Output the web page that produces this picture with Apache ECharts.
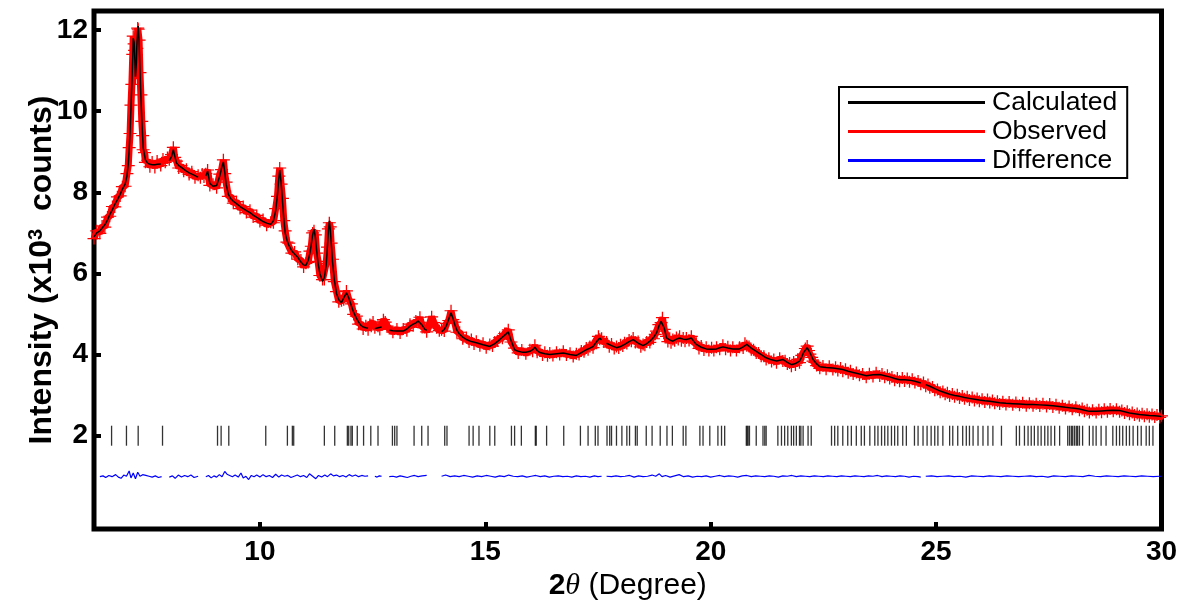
<!DOCTYPE html>
<html>
<head>
<meta charset="utf-8">
<script src="https://cdn.jsdelivr.net/npm/echarts@6.0.0/dist/echarts.min.js"></script>
<style>
html,body{margin:0;padding:0;background:#fff;}
#chart{width:1181px;height:600px;}
</style>
</head>
<body>
<div id="chart"></div>
<script>
// ---- data (2theta in degrees, intensity in 10^3 counts) ----
const xTicks = [10, 15, 20, 25, 30];
const yTicks = [2, 4, 6, 8, 10, 12];

const calcPts = [[6.32,6.90],[6.38,7.00],[6.45,7.05],[6.50,7.12],[6.56,7.20],[6.62,7.32],[6.67,7.45],[6.73,7.58],[6.78,7.70],[6.84,7.82],[6.90,7.95],[6.95,8.08],[7.01,8.20],[7.05,8.40],[7.08,8.70],[7.10,9.05],[7.12,9.50],[7.14,10.10],[7.16,10.70],[7.18,11.35],[7.19,11.80],[7.21,11.70],[7.22,11.45],[7.24,10.85],[7.26,11.20],[7.27,11.60],[7.29,12.00],[7.30,12.10],[7.32,11.70],[7.34,11.00],[7.36,10.35],[7.38,9.80],[7.40,9.35],[7.41,9.10],[7.44,8.92],[7.46,8.80],[7.51,8.72],[7.56,8.69],[7.61,8.68],[7.67,8.68],[7.72,8.69],[7.80,8.70],[7.90,null],[7.99,8.78],[8.04,8.88],[8.08,9.05],[8.11,8.90],[8.15,8.72],[8.20,8.66],[8.25,8.62],[8.31,8.57],[8.37,8.52],[8.43,8.48],[8.49,8.45],[8.56,8.41],[8.63,8.37],[8.72,null],[8.80,8.40],[8.84,8.52],[8.89,8.22],[8.96,8.15],[9.04,8.17],[9.11,8.40],[9.15,8.60],[9.19,8.75],[9.22,8.50],[9.25,8.20],[9.30,7.95],[9.35,7.85],[9.41,7.78],[9.48,7.72],[9.56,7.65],[9.63,7.60],[9.70,7.55],[9.78,7.50],[9.85,7.44],[9.93,7.38],[10.00,7.33],[10.07,7.28],[10.15,7.24],[10.24,7.21],[10.30,7.30],[10.35,7.55],[10.39,7.95],[10.42,8.35],[10.44,8.55],[10.47,8.25],[10.50,7.80],[10.53,7.35],[10.56,7.00],[10.60,6.82],[10.64,6.70],[10.71,6.55],[10.77,6.48],[10.84,6.40],[10.91,6.28],[10.97,6.21],[11.02,6.20],[11.07,6.32],[11.11,6.50],[11.14,6.72],[11.17,6.95],[11.20,7.10],[11.23,6.90],[11.26,6.55],[11.29,6.25],[11.33,6.00],[11.39,5.80],[11.43,5.90],[11.47,6.20],[11.50,6.70],[11.52,7.05],[11.54,7.30],[11.56,7.10],[11.58,6.80],[11.61,6.30],[11.65,5.85],[11.70,5.50],[11.75,5.35],[11.81,5.28],[11.86,5.40],[11.92,5.52],[11.97,5.40],[12.03,5.20],[12.08,5.04],[12.14,4.90],[12.19,4.80],[12.24,4.72],[12.29,4.68],[12.35,4.66],[12.40,4.65],[12.47,null],[12.55,4.64],[12.62,4.66],[12.70,4.68],[12.78,null],[12.87,4.60],[12.95,4.59],[13.04,4.58],[13.11,4.58],[13.18,4.58],[13.26,4.63],[13.33,4.70],[13.40,4.75],[13.46,4.78],[13.51,4.83],[13.55,4.86],[13.60,4.72],[13.66,4.62],[13.70,4.60],[13.85,null],[14.03,4.56],[14.09,4.62],[14.14,4.72],[14.19,4.88],[14.24,5.03],[14.28,4.90],[14.32,4.75],[14.37,4.60],[14.43,4.50],[14.50,4.43],[14.58,4.37],[14.69,4.32],[14.80,4.29],[14.95,4.24],[15.10,4.20],[15.21,4.27],[15.32,4.37],[15.43,4.48],[15.51,4.56],[15.57,4.35],[15.65,4.12],[15.73,4.08],[15.81,4.06],[15.90,4.06],[15.99,4.08],[16.05,4.12],[16.10,4.18],[16.15,4.10],[16.21,4.05],[16.32,4.02],[16.43,4.00],[16.58,4.02],[16.73,4.04],[16.88,4.00],[17.02,3.98],[17.13,4.05],[17.24,4.12],[17.32,4.16],[17.39,4.20],[17.47,4.32],[17.54,4.41],[17.58,4.36],[17.63,null],[17.69,4.28],[17.80,4.22],[17.91,4.17],[18.00,4.20],[18.09,4.25],[18.19,4.32],[18.28,4.37],[18.39,4.28],[18.50,4.22],[18.58,4.27],[18.65,4.33],[18.73,4.42],[18.80,4.54],[18.85,4.70],[18.90,4.82],[18.93,4.86],[18.97,4.65],[19.02,4.41],[19.09,4.36],[19.16,4.33],[19.24,4.38],[19.31,4.41],[19.39,4.38],[19.46,4.37],[19.52,4.39],[19.57,4.41],[19.63,4.32],[19.68,4.25],[19.79,4.18],[19.90,4.14],[20.02,4.13],[20.13,4.14],[20.20,4.17],[20.27,4.19],[20.38,4.16],[20.49,4.14],[20.64,4.14],[20.72,4.19],[20.80,4.25],[20.90,4.16],[21.01,4.08],[21.12,4.00],[21.23,3.92],[21.35,3.87],[21.46,3.84],[21.60,3.88],[21.70,3.81],[21.79,3.75],[21.88,3.78],[21.97,3.84],[22.02,3.94],[22.06,4.05],[22.14,4.17],[22.20,4.05],[22.27,3.88],[22.35,3.77],[22.42,3.70],[22.56,3.68],[22.71,3.67],[22.82,3.65],[22.93,3.63],[23.05,3.59],[23.16,3.56],[23.30,3.52],[23.45,3.48],[23.60,3.50],[23.75,3.51],[23.86,3.48],[23.97,3.45],[24.08,3.41],[24.19,3.38],[24.30,3.38],[24.41,3.37],[24.53,3.34],[24.66,3.30],[24.72,null],[24.77,3.26],[24.86,3.22],[24.97,3.16],[25.09,3.10],[25.20,3.06],[25.30,3.02],[25.41,2.99],[25.52,2.97],[25.63,2.94],[25.74,2.92],[25.85,2.90],[25.96,2.88],[26.08,2.86],[26.19,2.85],[26.30,2.83],[26.41,2.81],[26.55,2.80],[26.70,2.79],[26.85,2.78],[27.00,2.77],[27.15,2.77],[27.30,2.76],[27.45,2.75],[27.59,2.74],[27.73,2.72],[27.87,2.70],[28.02,2.68],[28.18,2.66],[28.29,2.63],[28.40,2.60],[28.55,2.60],[28.67,2.61],[28.80,2.62],[28.93,2.63],[29.07,2.62],[29.18,2.59],[29.29,2.56],[29.40,2.54],[29.51,2.52],[29.62,2.51],[29.73,2.50],[29.85,2.49],[29.96,2.48],[30.00,2.47]];

const obsPts = [[6.32,6.86],[6.38,7.05],[6.45,6.99],[6.50,7.17],[6.56,7.14],[6.62,7.39],[6.67,7.41],[6.73,7.65],[6.78,7.64],[6.84,7.89],[6.90,7.91],[6.95,8.14],[7.01,8.15],[7.05,8.46],[7.08,8.66],[7.10,9.10],[7.12,9.45],[7.14,10.15],[7.16,10.66],[7.18,11.40],[7.19,11.85],[7.21,11.66],[7.22,11.50],[7.24,10.80],[7.26,11.25],[7.27,11.55],[7.29,12.05],[7.30,12.02],[7.32,11.75],[7.34,10.95],[7.36,10.40],[7.38,9.75],[7.40,9.40],[7.41,9.05],[7.44,8.98],[7.46,8.74],[7.51,8.79],[7.56,8.63],[7.61,8.75],[7.67,8.61],[7.72,8.77],[7.80,8.66],[7.85,8.82],[7.90,8.74],[7.95,8.86],[7.99,8.80],[8.04,8.93],[8.08,9.11],[8.11,8.86],[8.15,8.77],[8.20,8.60],[8.25,8.66],[8.31,8.52],[8.37,8.57],[8.43,8.44],[8.49,8.51],[8.56,8.36],[8.63,8.42],[8.68,8.36],[8.72,8.45],[8.76,8.38],[8.80,8.46],[8.84,8.55],[8.89,8.17],[8.96,8.20],[9.04,8.11],[9.11,8.45],[9.15,8.56],[9.19,8.80],[9.22,8.46],[9.25,8.25],[9.30,7.90],[9.35,7.90],[9.41,7.73],[9.48,7.77],[9.56,7.60],[9.63,7.65],[9.70,7.50],[9.78,7.56],[9.85,7.39],[9.93,7.43],[10.00,7.28],[10.07,7.33],[10.15,7.19],[10.24,7.26],[10.30,7.25],[10.35,7.60],[10.39,7.90],[10.42,8.40],[10.44,8.60],[10.47,8.20],[10.50,7.85],[10.53,7.30],[10.56,7.05],[10.60,6.77],[10.64,6.75],[10.71,6.50],[10.77,6.53],[10.84,6.35],[10.91,6.33],[10.97,6.16],[11.02,6.25],[11.07,6.27],[11.11,6.55],[11.14,6.67],[11.17,7.00],[11.20,7.05],[11.23,6.95],[11.26,6.50],[11.29,6.30],[11.33,5.95],[11.39,5.85],[11.43,5.85],[11.47,6.25],[11.50,6.65],[11.52,7.10],[11.54,7.25],[11.56,7.15],[11.58,6.75],[11.61,6.35],[11.65,5.80],[11.70,5.55],[11.75,5.30],[11.81,5.33],[11.86,5.35],[11.92,5.57],[11.97,5.36],[12.03,5.25],[12.08,4.99],[12.14,4.95],[12.19,4.75],[12.24,4.77],[12.29,4.63],[12.35,4.71],[12.40,4.61],[12.44,4.74],[12.47,4.70],[12.51,4.80],[12.55,4.66],[12.62,4.70],[12.66,4.62],[12.70,4.74],[12.74,4.86],[12.78,4.80],[12.82,4.70],[12.87,4.64],[12.95,4.55],[13.04,4.63],[13.11,4.53],[13.18,4.63],[13.26,4.59],[13.33,4.75],[13.40,4.71],[13.46,4.83],[13.51,4.79],[13.55,4.92],[13.60,4.67],[13.66,4.67],[13.70,4.56],[13.74,4.68],[13.77,4.78],[13.81,4.93],[13.86,4.79],[13.92,4.66],[13.98,4.59],[14.03,4.61],[14.09,4.58],[14.14,4.77],[14.19,4.84],[14.24,5.08],[14.28,4.86],[14.32,4.80],[14.37,4.55],[14.43,4.55],[14.50,4.39],[14.58,4.42],[14.64,4.31],[14.69,4.37],[14.75,4.26],[14.80,4.33],[14.88,4.22],[14.95,4.28],[15.02,4.17],[15.10,4.25],[15.16,4.21],[15.21,4.31],[15.27,4.34],[15.32,4.42],[15.38,4.40],[15.43,4.52],[15.47,4.50],[15.51,4.61],[15.57,4.31],[15.65,4.16],[15.73,4.04],[15.81,4.11],[15.90,4.02],[15.99,4.12],[16.05,4.08],[16.10,4.23],[16.15,4.06],[16.21,4.09],[16.27,3.99],[16.32,4.06],[16.38,3.97],[16.43,4.04],[16.50,3.98],[16.58,4.06],[16.65,4.00],[16.73,4.08],[16.80,3.99],[16.88,4.03],[16.95,3.95],[17.02,4.02],[17.08,4.00],[17.13,4.09],[17.19,4.07],[17.24,4.16],[17.28,4.12],[17.32,4.20],[17.39,4.17],[17.43,4.30],[17.47,4.28],[17.51,4.45],[17.54,4.38],[17.58,4.40],[17.63,4.31],[17.69,4.31],[17.75,4.19],[17.80,4.26],[17.86,4.15],[17.91,4.20],[17.96,4.16],[18.00,4.24],[18.05,4.21],[18.09,4.29],[18.14,4.27],[18.19,4.36],[18.24,4.33],[18.28,4.41],[18.33,4.30],[18.39,4.32],[18.45,4.19],[18.50,4.25],[18.54,4.23],[18.58,4.31],[18.65,4.30],[18.69,4.41],[18.73,4.39],[18.77,4.50],[18.80,4.58],[18.85,4.74],[18.90,4.79],[18.93,4.91],[18.97,4.62],[19.02,4.45],[19.05,4.32],[19.09,4.40],[19.12,4.29],[19.16,4.37],[19.20,4.34],[19.24,4.42],[19.28,4.37],[19.31,4.45],[19.35,4.34],[19.39,4.41],[19.43,4.33],[19.46,4.41],[19.52,4.35],[19.57,4.45],[19.63,4.29],[19.68,4.28],[19.74,4.15],[19.79,4.21],[19.85,4.11],[19.90,4.18],[19.96,4.10],[20.02,4.17],[20.07,4.10],[20.13,4.18],[20.20,4.13],[20.27,4.23],[20.33,4.13],[20.38,4.19],[20.44,4.10],[20.49,4.18],[20.57,4.10],[20.64,4.18],[20.72,4.16],[20.76,4.28],[20.80,4.22],[20.85,4.20],[20.90,4.12],[20.95,4.12],[21.01,4.04],[21.06,4.04],[21.12,3.96],[21.18,3.96],[21.23,3.88],[21.29,3.91],[21.35,3.83],[21.40,3.88],[21.46,3.80],[21.53,3.91],[21.60,3.84],[21.65,3.85],[21.70,3.77],[21.75,3.79],[21.79,3.71],[21.84,3.82],[21.88,3.74],[21.93,3.88],[21.97,3.80],[22.02,3.98],[22.06,4.01],[22.10,4.15],[22.14,4.21],[22.17,4.10],[22.20,4.01],[22.24,3.93],[22.27,3.84],[22.31,3.81],[22.35,3.73],[22.38,3.74],[22.42,3.66],[22.49,3.72],[22.56,3.64],[22.63,3.71],[22.71,3.63],[22.77,3.69],[22.82,3.61],[22.88,3.67],[22.93,3.59],[22.99,3.64],[23.05,3.55],[23.10,3.60],[23.16,3.52],[23.23,3.56],[23.30,3.49],[23.37,3.52],[23.45,3.44],[23.52,3.53],[23.60,3.46],[23.67,3.55],[23.75,3.47],[23.80,3.52],[23.86,3.44],[23.92,3.49],[23.97,3.41],[24.02,3.45],[24.08,3.37],[24.14,3.42],[24.19,3.34],[24.25,3.42],[24.30,3.35],[24.36,3.41],[24.41,3.33],[24.47,3.39],[24.53,3.31],[24.60,3.35],[24.66,3.27],[24.72,3.31],[24.77,3.22],[24.82,3.26],[24.86,3.18],[24.92,3.20],[24.97,3.12],[25.03,3.14],[25.09,3.07],[25.15,3.09],[25.20,3.02],[25.25,3.06],[25.30,2.98],[25.36,3.03],[25.41,2.96],[25.47,3.01],[25.52,2.93],[25.58,2.98],[25.63,2.91],[25.69,2.96],[25.74,2.88],[25.80,2.94],[25.85,2.87],[25.91,2.92],[25.96,2.85],[26.02,2.90],[26.08,2.83],[26.14,2.89],[26.19,2.82],[26.25,2.87],[26.30,2.80],[26.36,2.85],[26.41,2.78],[26.48,2.84],[26.55,2.77],[26.62,2.83],[26.70,2.76],[26.77,2.82],[26.85,2.75],[26.92,2.81],[27.00,2.74],[27.07,2.80],[27.15,2.74],[27.22,2.79],[27.30,2.73],[27.37,2.79],[27.45,2.72],[27.52,2.78],[27.59,2.71],[27.66,2.76],[27.73,2.69],[27.80,2.74],[27.87,2.67],[27.95,2.72],[28.02,2.65],[28.10,2.70],[28.18,2.63],[28.24,2.67],[28.29,2.60],[28.35,2.64],[28.40,2.57],[28.47,2.63],[28.55,2.57],[28.61,2.64],[28.67,2.58],[28.73,2.65],[28.80,2.59],[28.86,2.66],[28.93,2.60],[29.00,2.65],[29.07,2.59],[29.12,2.62],[29.18,2.56],[29.24,2.60],[29.29,2.53],[29.35,2.57],[29.40,2.51],[29.46,2.55],[29.51,2.49],[29.57,2.54],[29.62,2.48],[29.68,2.53],[29.73,2.47],[29.79,2.52],[29.85,2.46],[29.90,2.51],[29.96,2.45],[30.00,2.49]];

const diffPts = [[6.45,0.99],[6.52,1.01],[6.58,0.97],[6.65,1.02],[6.72,0.99],[6.80,1.04],[6.86,0.98],[6.92,0.95],[6.98,1.03],[7.04,1.00],[7.10,1.13],[7.14,0.96],[7.19,1.08],[7.24,0.94],[7.29,1.10],[7.34,1.00],[7.40,1.04],[7.47,1.02],[7.54,1.00],[7.61,0.98],[7.68,1.01],[7.75,0.97],[7.82,0.99],[7.90,null],[7.99,0.98],[8.06,1.01],[8.12,0.95],[8.19,1.03],[8.26,0.98],[8.33,1.02],[8.40,0.99],[8.47,1.03],[8.54,0.97],[8.63,1.00],[8.72,null],[8.80,0.99],[8.86,1.02],[8.92,0.96],[8.98,1.01],[9.04,0.98],[9.10,1.04],[9.16,0.99],[9.22,1.12],[9.27,1.05],[9.33,1.02],[9.39,0.99],[9.45,1.03],[9.52,0.98],[9.58,1.08],[9.63,0.96],[9.69,1.00],[9.75,0.92],[9.81,1.02],[9.87,0.99],[9.93,1.03],[10.00,0.98],[10.07,1.04],[10.14,0.99],[10.21,1.02],[10.28,0.97],[10.35,1.05],[10.42,0.98],[10.48,1.03],[10.55,1.00],[10.62,1.02],[10.69,0.97],[10.76,1.00],[10.83,1.03],[10.90,0.99],[10.97,1.02],[11.04,0.97],[11.10,1.06],[11.17,1.00],[11.24,0.94],[11.30,1.02],[11.37,0.98],[11.44,1.03],[11.50,0.99],[11.57,1.06],[11.63,1.01],[11.70,1.03],[11.77,0.99],[11.84,1.02],[11.91,0.98],[11.98,1.04],[12.05,1.00],[12.12,1.03],[12.19,0.99],[12.26,1.02],[12.33,1.00],[12.40,1.01],[12.47,null],[12.55,1.00],[12.60,0.98],[12.65,1.01],[12.70,1.00],[12.78,null],[12.87,0.99],[12.95,1.00],[13.03,0.98],[13.11,1.01],[13.19,0.99],[13.27,0.97],[13.35,1.00],[13.43,1.02],[13.51,0.99],[13.60,1.01],[13.70,1.02],[13.85,null],[14.03,1.00],[14.12,1.03],[14.22,0.99],[14.32,1.01],[14.42,0.99],[14.52,1.02],[14.62,1.00],[14.72,0.98],[14.82,1.01],[14.92,0.99],[15.02,1.02],[15.12,1.00],[15.22,0.98],[15.32,1.01],[15.42,0.99],[15.52,1.03],[15.62,1.00],[15.72,0.99],[15.82,1.01],[15.92,0.98],[16.02,1.00],[16.12,1.02],[16.22,0.99],[16.32,1.01],[16.42,0.98],[16.52,1.00],[16.62,1.01],[16.72,0.99],[16.82,1.00],[16.92,0.98],[17.02,1.01],[17.12,0.99],[17.22,1.00],[17.32,0.98],[17.42,1.01],[17.50,0.99],[17.58,1.00],[17.63,null],[17.69,1.00],[17.80,0.99],[17.90,1.01],[18.00,0.99],[18.10,1.00],[18.20,1.02],[18.30,0.98],[18.40,1.01],[18.50,0.99],[18.60,1.00],[18.70,1.03],[18.78,1.00],[18.86,1.06],[18.92,0.99],[19.00,1.02],[19.10,0.98],[19.20,1.01],[19.30,1.04],[19.40,0.99],[19.50,1.01],[19.60,0.98],[19.70,1.00],[19.80,0.99],[19.90,1.01],[20.00,0.98],[20.10,1.00],[20.20,1.02],[20.30,0.99],[20.40,1.01],[20.50,1.00],[20.60,0.98],[20.70,1.01],[20.80,1.02],[20.90,0.99],[21.00,1.01],[21.10,1.00],[21.20,0.99],[21.30,1.01],[21.40,1.00],[21.50,0.98],[21.60,1.01],[21.70,1.00],[21.80,1.02],[21.90,0.99],[22.00,1.01],[22.10,1.00],[22.20,0.99],[22.30,1.01],[22.40,1.00],[22.50,0.99],[22.60,1.01],[22.70,1.00],[22.80,0.99],[22.90,1.01],[23.00,1.00],[23.10,0.99],[23.20,1.01],[23.30,1.00],[23.40,0.99],[23.50,1.01],[23.60,1.00],[23.70,1.02],[23.80,0.99],[23.90,1.01],[24.00,1.00],[24.10,0.99],[24.20,1.01],[24.30,1.00],[24.40,0.98],[24.50,1.00],[24.60,0.99],[24.66,0.98],[24.72,null],[24.77,1.00],[24.90,1.01],[25.02,0.99],[25.15,1.00],[25.28,1.01],[25.40,0.99],[25.53,1.00],[25.66,0.98],[25.79,1.01],[25.92,1.00],[26.05,0.99],[26.18,1.01],[26.31,1.00],[26.44,0.99],[26.57,1.01],[26.70,1.00],[26.83,0.99],[26.96,1.00],[27.09,1.01],[27.22,0.99],[27.35,1.00],[27.48,0.98],[27.61,1.01],[27.74,1.00],[27.87,0.99],[28.00,1.01],[28.13,1.00],[28.26,0.99],[28.39,1.02],[28.52,1.00],[28.65,0.99],[28.78,1.01],[28.91,1.00],[29.04,0.99],[29.17,1.01],[29.30,1.00],[29.43,0.99],[29.56,1.01],[29.69,1.00],[29.82,0.99],[29.95,1.00],[30.00,1.00]];

const reflPos = [6.71,7.04,7.30,7.84,9.06,9.14,9.31,10.13,10.61,10.72,10.75,11.43,11.66,11.94,11.97,12.02,12.05,12.16,12.30,12.46,12.62,12.94,12.99,13.04,13.42,13.59,13.73,14.10,14.15,14.64,14.73,14.86,15.10,15.21,15.58,15.65,15.80,16.11,16.13,16.36,16.74,17.11,17.28,17.44,17.50,17.70,17.76,17.80,17.91,18.03,18.14,18.20,18.33,18.37,18.57,18.70,18.88,19.03,19.15,19.39,19.45,19.76,19.83,19.98,20.16,20.24,20.31,20.79,20.81,20.83,20.86,21.01,21.16,21.20,21.23,21.49,21.57,21.64,21.71,21.79,21.84,21.90,21.97,22.00,22.05,22.16,22.23,22.68,22.75,22.82,22.93,23.04,23.12,23.23,23.34,23.41,23.53,23.64,23.71,23.79,23.86,23.93,24.01,24.08,24.15,24.26,24.34,24.52,24.60,24.71,24.80,24.89,24.97,25.04,25.15,25.30,25.37,25.48,25.59,25.67,25.74,25.82,25.93,26.04,26.15,26.26,26.45,26.78,26.85,26.96,27.04,27.11,27.18,27.26,27.33,27.41,27.48,27.55,27.63,27.74,27.92,27.96,28.00,28.03,28.07,28.11,28.14,28.18,28.25,28.40,28.48,28.55,28.66,28.77,28.92,29.00,29.07,29.14,29.22,29.29,29.37,29.47,29.55,29.66,29.73,29.81,29.96];
const reflRowY = 2.0;

// ---- chart ----
const FONT = "'Liberation Sans', Arial, Helvetica, sans-serif";
const plusPath = 'path://M0,9H9V0H11V9H20V11H11V20H9V11H0Z';

const chart = echarts.init(document.getElementById('chart'), null, {renderer: 'canvas'});
chart.setOption({
  animation: false,
  backgroundColor: '#fff',
  grid: {left: 94, right: 19.5, top: 11, bottom: 71, show: true, borderColor: '#000', borderWidth: 5, backgroundColor: 'transparent', outerBoundsMode: 'none', containLabel: false},
  legend: {
    orient: 'vertical', left: 839, top: 87,
    itemWidth: 137, itemHeight: 3, itemGap: 2,
    padding: [2, 10, 4, 9],
    borderColor: '#000', borderWidth: 2, backgroundColor: '#fff',
    selectedMode: false,
    textStyle: {fontSize: 26.5, color: '#000', fontFamily: FONT, lineHeight: 27, padding: [0, 0, 0, 2]},
    data: [
      {name: 'Calculated', icon: 'rect'},
      {name: 'Observed', icon: 'rect'},
      {name: 'Difference', icon: 'rect'}
    ]
  },
  xAxis: {
    type: 'value', min: 6.32, max: 30,
    splitLine: {show: false},
    axisLine: {show: false, onZero: false},
    axisTick: {show: true, inside: true, length: 7, lineStyle: {width: 4, color: '#000'}, customValues: xTicks},
    axisLabel: {customValues: xTicks, fontSize: 28, fontWeight: 'bold', color: '#000', fontFamily: FONT, margin: 9},
    name: '{b|2}{i|θ}{n| (Degree)}',
    nameLocation: 'middle', nameGap: 42, nameMoveOverlap: false,
    nameTextStyle: {
      color: '#000',
      rich: {
        b: {fontSize: 30, fontWeight: 'bold', fontFamily: FONT, color: '#000'},
        i: {fontSize: 30, fontStyle: 'italic', fontFamily: "'Liberation Serif', 'Times New Roman', serif", color: '#000'},
        n: {fontSize: 30, fontFamily: FONT, color: '#000'}
      }
    }
  },
  yAxis: {
    type: 'value', min: -0.3, max: 12.47,
    splitLine: {show: false},
    axisLine: {show: false, onZero: false},
    axisTick: {show: true, inside: true, length: 7, lineStyle: {width: 4, color: '#000'}, customValues: yTicks},
    axisLabel: {customValues: yTicks, fontSize: 28, fontWeight: 'bold', color: '#000', fontFamily: FONT, margin: 6},
    name: '{m|Intensity (x10}{s|3}{m|  counts)}',
    nameLocation: 'middle', nameGap: 36, nameRotate: 90, nameMoveOverlap: false,
    nameTextStyle: {
      color: '#000',
      rich: {
        m: {fontSize: 32, fontWeight: 'bold', fontFamily: FONT, color: '#000', lineHeight: 32, verticalAlign: 'bottom'},
        s: {fontSize: 20, fontWeight: 'bold', fontFamily: FONT, color: '#000', lineHeight: 20, padding: [0, 0, 26, 0], verticalAlign: 'top'}
      }
    }
  },
  series: [
    {
      name: 'Observed', type: 'line', data: obsPts,
      symbol: plusPath, symbolSize: [13, 12], showSymbol: true, showAllSymbol: true,
      itemStyle: {color: '#ff0000'},
      lineStyle: {color: '#ff0000', width: 7},
      z: 2, silent: true
    },
    {
      name: 'Calculated', type: 'line', data: calcPts,
      showSymbol: false, connectNulls: false,
      itemStyle: {color: '#000'},
      lineStyle: {color: '#000', width: 1.5},
      z: 3, silent: true
    },
    {
      name: 'Difference', type: 'line', data: diffPts,
      showSymbol: false, connectNulls: false,
      itemStyle: {color: '#0000ff'},
      lineStyle: {color: '#0000ff', width: 1.2},
      z: 3, silent: true
    },
    {
      name: 'Reflections', type: 'scatter',
      data: reflPos.map(p => [p, reflRowY]),
      symbol: 'rect', symbolSize: [1.3, 20],
      itemStyle: {color: '#000'},
      z: 3, silent: true
    }
  ]
});
</script>
</body>
</html>
